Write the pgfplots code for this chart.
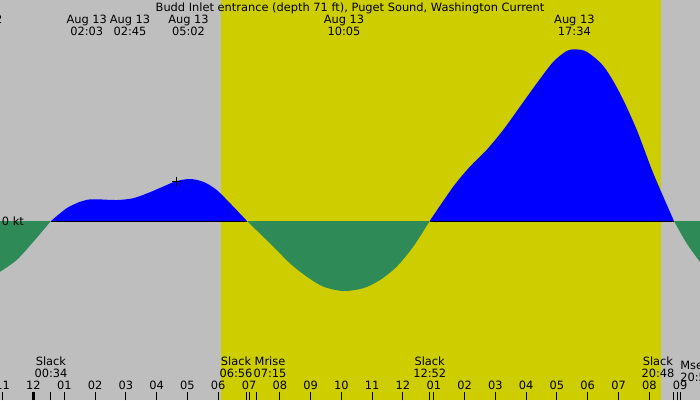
\documentclass[border=0pt]{standalone}
\usepackage{pgfplots}
\pgfplotsset{compat=1.18}
\usepackage{fontspec}
\setmainfont{DejaVu Sans}
\definecolor{bggray}{RGB}{190,190,190}
\definecolor{dayyellow}{RGB}{206,205,0}
\definecolor{ebbgreen}{RGB}{46,139,87}
\definecolor{floodblue}{RGB}{0,0,255}
\newcommand{\lbl}{\fontsize{11.4}{12}\selectfont}
\begin{document}
\begin{tikzpicture}
\useasboundingbox (0,0) rectangle (700pt,400pt);
\begin{scope}
\clip (0,0) rectangle (700pt,400pt);
\begin{axis}[
    at={(0,0)}, anchor=south west,
    scale only axis,
    width=700pt, height=400pt,
    xmin=-1.088, xmax=21.646,
    ymin=-0.4475, ymax=0.5525,
    axis background/.style={fill=bggray},
    axis line style={draw=none},
    axis on top,
    clip=false,
    ytick=\empty,
    xtick pos=left,
    tick align=inside,
    major tick length=8pt,
    xtick={-1,0,...,21},
    xticklabels={11,12,01,02,03,04,05,06,07,08,09,10,11,12,01,02,03,04,05,06,07,08,09},
    xtick style={black, line width=1pt},
    xticklabel style={font=\lbl, anchor=base, inner sep=0pt},
    xticklabel shift=-10.5pt,
    extra x ticks={0.567,6.933,7.25,12.867,20.8,20.93},
    extra x tick labels={},
    extra x tick style={tick style={red, line width=1pt}},
]
% daylight band
\addplot[fill=dayyellow, draw=none] coordinates {
    (6.09,-0.4475) (6.09,0.5525) (20.38,0.5525) (20.38,-0.4475)} -- cycle;

% ebb (negative) segments
\addplot[fill=ebbgreen, draw=none, smooth] coordinates {
    (-1.088,-0.127) (-0.546,-0.0975) (-0.006,-0.052) (0.567,0)} \closedcycle;
\addplot[fill=ebbgreen, draw=none, smooth] coordinates {
    (6.933,0) (7.788,-0.064) (8.331,-0.106) (8.873,-0.139) (9.412,-0.164)
    (10.062,-0.175) (10.711,-0.168) (11.254,-0.1475) (11.796,-0.114)
    (12.335,-0.064) (12.867,0)} \closedcycle;
\addplot[fill=ebbgreen, draw=none, smooth] coordinates {
    (20.8,0) (21.214,-0.056) (21.646,-0.1025)} \closedcycle;

% flood (positive) segments
\addplot[fill=floodblue, draw=none, smooth] coordinates {
    (0.567,0) (1.078,0.032) (1.510,0.048) (1.835,0.054) (2.160,0.054)
    (2.702,0.0525) (3.241,0.057) (3.784,0.072) (4.326,0.090) (4.651,0.100)
    (5.083,0.105) (5.515,0.098) (5.950,0.0775) (6.489,0.036) (6.933,0)} \closedcycle;
\addplot[fill=floodblue, draw=none, smooth] coordinates {
    (12.867,0) (13.634,0.086) (14.177,0.136) (14.719,0.178) (15.258,0.228)
    (15.801,0.286) (16.343,0.344) (16.882,0.398) (17.317,0.425) (17.587,0.429)
    (17.967,0.423) (18.522,0.386) (19.048,0.319) (19.591,0.228) (20.130,0.119)
    (20.8,0)} \closedcycle;

% zero line under flood
\addplot[black, line width=1pt] coordinates {(0.567,0) (6.933,0)};
\addplot[black, line width=1pt] coordinates {(12.867,0) (20.8,0)};

% midnight marker
\addplot[black, line width=3pt] coordinates {(0,-0.4475) (0,-0.4275)};

% current marker
\addplot[only marks, mark=+, mark size=4.5pt, black, line width=0.8pt] coordinates {(4.651,0.100)};

% title and event labels
\node[font=\lbl, anchor=base] at (axis cs:10.28,0.52375)
    {Budd Inlet entrance (depth 71 ft), Puget Sound, Washington Current};
\node[font=\lbl, anchor=base] at (axis cs:-1.67,0.49375) {Aug 12};

\node[font=\lbl, anchor=base] at (axis cs:1.728,0.49375) {Aug 13};
\node[font=\lbl, anchor=base] at (axis cs:1.728,0.465) {02:03};
\node[font=\lbl, anchor=base] at (axis cs:3.134,0.49375) {Aug 13};
\node[font=\lbl, anchor=base] at (axis cs:3.134,0.465) {02:45};
\node[font=\lbl, anchor=base] at (axis cs:5.033,0.49375) {Aug 13};
\node[font=\lbl, anchor=base] at (axis cs:5.033,0.465) {05:02};
\node[font=\lbl, anchor=base] at (axis cs:10.083,0.49375) {Aug 13};
\node[font=\lbl, anchor=base] at (axis cs:10.083,0.465) {10:05};
\node[font=\lbl, anchor=base] at (axis cs:17.567,0.49375) {Aug 13};
\node[font=\lbl, anchor=base] at (axis cs:17.567,0.465) {17:34};

\node[font=\lbl, anchor=base] at (axis cs:0.567,-0.36175) {Slack};
\node[font=\lbl, anchor=base] at (axis cs:0.567,-0.39) {00:34};
\node[font=\lbl, anchor=base] at (axis cs:6.577,-0.36175) {Slack};
\node[font=\lbl, anchor=base] at (axis cs:6.577,-0.39) {06:56};
\node[font=\lbl, anchor=base] at (axis cs:7.681,-0.36175) {Mrise};
\node[font=\lbl, anchor=base] at (axis cs:7.681,-0.39) {07:15};
\node[font=\lbl, anchor=base] at (axis cs:12.867,-0.36175) {Slack};
\node[font=\lbl, anchor=base] at (axis cs:12.867,-0.39) {12:52};
\node[font=\lbl, anchor=base] at (axis cs:20.28,-0.36175) {Slack};
\node[font=\lbl, anchor=base] at (axis cs:20.28,-0.39) {20:48};
\node[font=\lbl, anchor=west, inner sep=0pt] at (axis cs:21.0,-0.36175) {Mset};
\node[font=\lbl, anchor=west, inner sep=0pt] at (axis cs:21.0,-0.39) {20:56};

\node[font=\lbl, anchor=west, inner sep=0pt] at (axis cs:-1.03,0) {0 kt};
\end{axis}
\end{scope}
\end{tikzpicture}
\end{document}
